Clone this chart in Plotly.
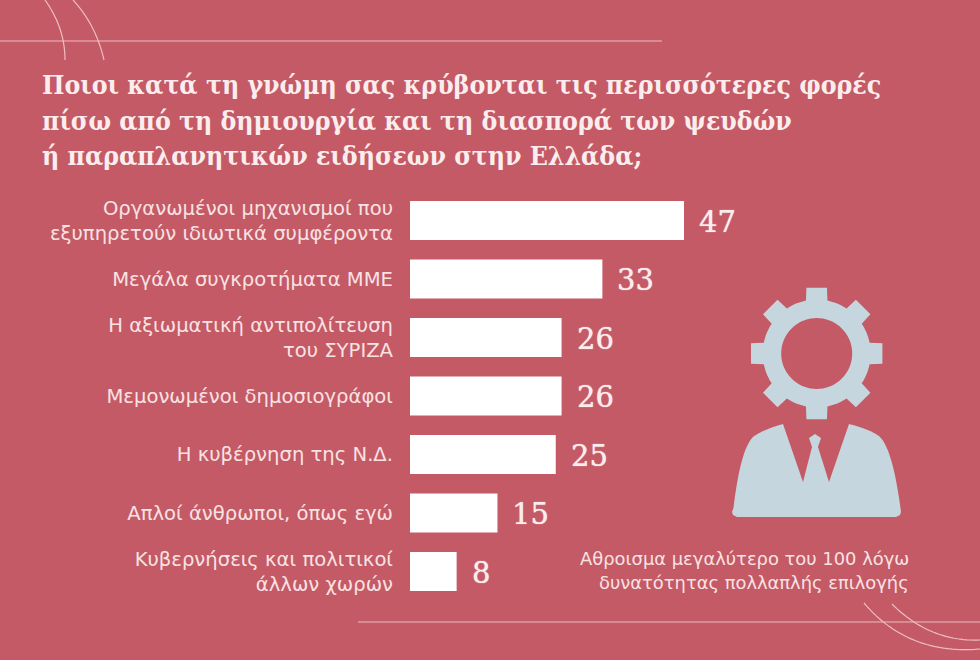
import math
import plotly.graph_objects as go

W, H = 980, 660
BG = "#C45A65"
ICON = "#C5D6DF"
TEXT = "#FBEDEE"
SOFT_TEXT = "#F8E2E4"
ARC = "#EDBEC2"

categories = [
    "Οργανωμένοι μηχανισμοί που<br>εξυπηρετούν ιδιωτικά συμφέροντα",
    "Μεγάλα συγκροτήματα ΜΜΕ",
    "Η αξιωματική αντιπολίτευση<br>του ΣΥΡΙΖΑ",
    "Μεμονωμένοι δημοσιογράφοι",
    "Η κυβέρνηση της Ν.Δ.",
    "Απλοί άνθρωποι, όπως εγώ",
    "Κυβερνήσεις και πολιτικοί<br>άλλων χωρών",
]
values = [47, 33, 26, 26, 25, 15, 8]

title_lines = [
    "Ποιοι κατά τη γνώμη σας κρύβονται τις περισσότερες φορές",
    "πίσω από τη δημιουργία και τη διασπορά των ψευδών",
    "ή παραπλανητικών ειδήσεων στην Ελλάδα;",
]
note_lines = [
    "Αθροισμα μεγαλύτερο του 100 λόγω",
    "δυνατότητας πολλαπλής επιλογής",
]


def px(x, y):
    """Pixel position on the page to paper coordinates."""
    return x / W, 1 - y / H


def path_from(points, close=True):
    parts = []
    for i, (x, y) in enumerate(points):
        u, v = px(x, y)
        parts.append(f"{'M' if i == 0 else 'L'}{u:.5f},{v:.5f}")
    return " ".join(parts) + (" Z" if close else "")


def quad(p0, c, p1, n=30):
    pts = []
    for i in range(n + 1):
        t = i / n
        pts.append((
            (1 - t) ** 2 * p0[0] + 2 * t * (1 - t) * c[0] + t ** 2 * p1[0],
            (1 - t) ** 2 * p0[1] + 2 * t * (1 - t) * c[1] + t ** 2 * p1[1],
        ))
    return pts


def gear(cx, cy, r_out, r_root, r_hole, teeth=8):
    pts = []
    step = 2 * math.pi / teeth
    for k in range(teeth):
        a = -math.pi / 2 + k * step
        for off, r in [(-0.20, r_root), (-0.155, r_out), (0.155, r_out), (0.20, r_root)]:
            pts.append((cx + r * math.cos(a + off), cy + r * math.sin(a + off)))
        # root arc between neighbouring teeth
        for j in range(1, 6):
            b = a + 0.20 + (step - 0.40) * j / 6
            pts.append((cx + r_root * math.cos(b), cy + r_root * math.sin(b)))
    hole = [
        (cx + r_hole * math.cos(2 * math.pi * i / 72), cy + r_hole * math.sin(2 * math.pi * i / 72))
        for i in range(72)
    ]
    return path_from(pts) + " " + path_from(hole)


# Figure with suit and tie, built as one outline
bust = [
    (783, 424), (803, 482), (812, 447), (809, 438), (815, 434), (821, 438),
    (818, 447), (829, 482), (849, 424),
    *quad((849, 424), (872, 430), (880, 437))[1:],
    *quad((880, 437), (893, 450), (901, 512))[1:],
    (900, 515), (896, 517), (737, 517), (733, 515), (732, 512),
    *quad((733, 512), (740, 450), (753, 437))[1:],
    *quad((753, 437), (762, 430), (783, 424))[1:],
]

shapes = [
    dict(type="path", xref="paper", yref="paper", path=gear(816.7, 353.5, 66.5, 54, 35.5),
         fillcolor=ICON, line=dict(width=0), layer="below"),
    dict(type="path", xref="paper", yref="paper", path=path_from(bust),
         fillcolor=ICON, line=dict(width=0), layer="below"),
]

# Thin rules and corner arcs
for x0, x1, y in [(0, 662, 41), (358, 980, 622)]:
    shapes.append(dict(type="path", xref="paper", yref="paper",
                       path=path_from([(x0, y), (x1, y)], close=False),
                       line=dict(color=ARC, width=1), layer="below"))
for p0, c, p1 in [
    ((45, 0), (65, 28), (65, 60)),
    ((73, 0), (96, 25), (104, 60)),
    ((864, 603), (908, 655), (980, 649)),
    ((892, 604), (930, 642), (980, 640)),
]:
    shapes.append(dict(type="path", xref="paper", yref="paper",
                       path=path_from(quad(p0, c, p1), close=False),
                       line=dict(color=ARC, width=1.2), layer="below"))

annotations = []
for i, line in enumerate(title_lines):
    u, v = px(40, 84.5 + i * 35.5)
    annotations.append(dict(
        text=f"<b>{line}</b>", x=u, y=v, xref="paper", yref="paper",
        xanchor="left", yanchor="middle", showarrow=False,
        font=dict(family="DejaVu Serif Condensed", size=26.4, color=TEXT),
    ))
for i, line in enumerate(note_lines):
    u, v = px(911, 558 + i * 24.5)
    annotations.append(dict(
        text=line, x=u, y=v, xref="paper", yref="paper",
        xanchor="right", yanchor="middle", showarrow=False,
        font=dict(family="DejaVu Sans", size=17.9, color=SOFT_TEXT),
    ))
for cat, val in zip(categories, values):
    annotations.append(dict(
        text=str(val), x=val, y=cat, xref="x", yref="y",
        xanchor="left", yanchor="middle", xshift=13, yshift=-1, showarrow=False,
        font=dict(family="DejaVu Serif", size=29, color=TEXT, shadow="0 0 1px #FBEDEE"),
    ))

fig = go.Figure(go.Bar(
    x=values, y=categories, orientation="h",
    marker=dict(color="#FFFFFF", line=dict(width=0)),
    hoverinfo="skip",
))

fig.update_layout(
    width=W, height=H,
    margin=dict(l=0, r=0, t=0, b=0),
    paper_bgcolor=BG, plot_bgcolor="rgba(0,0,0,0)",
    bargap=1 / 3, showlegend=False,
    shapes=shapes, annotations=annotations,
    xaxis=dict(domain=[410 / W, 1], range=[0, 570 / 5.83], visible=False),
    yaxis=dict(
        domain=[1 - 600.75 / H, 1 - 191.25 / H],
        autorange="reversed", showgrid=False, zeroline=False, showline=False,
        ticks="", ticklabelstandoff=16, automargin=False,
        tickfont=dict(family="DejaVu Sans", size=19.6, color=SOFT_TEXT),
    ),
)

fig.write_html("out.html")
